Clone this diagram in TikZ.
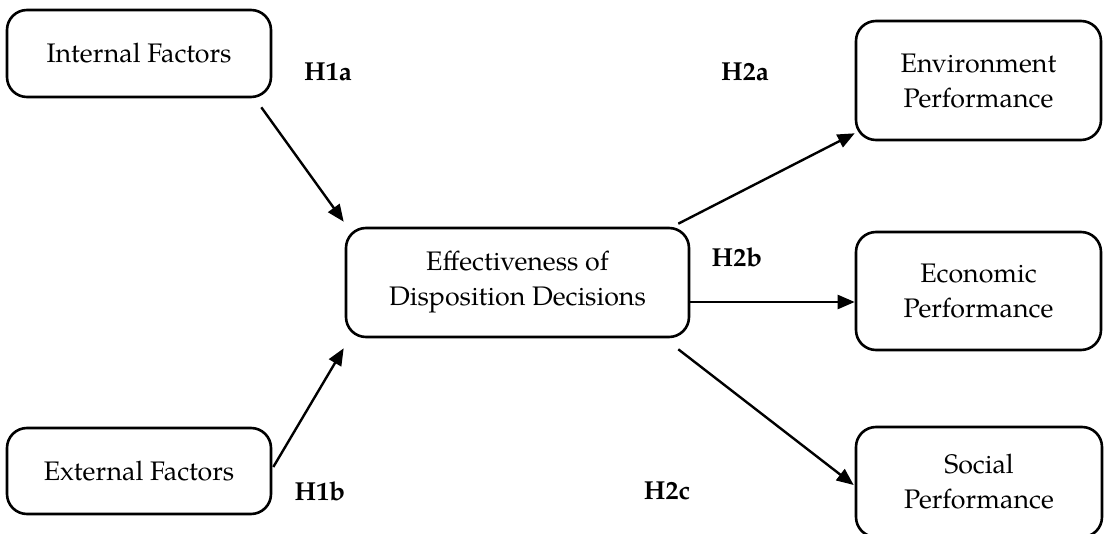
\documentclass[tikz,border=0pt]{standalone}
\usepackage{fontspec}
\setmainfont{texgyrepagella}[Extension=.otf, UprightFont=*-regular, BoldFont=*-bold, ItalicFont=*-italic, BoldItalicFont=*-bolditalic]
\usetikzlibrary{arrows.meta,calc}
\tikzset{
  box/.style={draw=black, line width=2.6pt, rounded corners=20pt, align=center, inner sep=0pt,
    font=\fontsize{26.8}{35}\selectfont},
  hlabel/.style={font=\fontsize{26}{30}\selectfont\bfseries, inner sep=0pt},
  conn/.style={line width=2.4pt, -{Triangle[length=17pt,width=14pt]}}
}
\begin{document}
\begin{tikzpicture}[x=1pt,y=-1pt]
\useasboundingbox[fill=white] (0,0) rectangle (1104,534);
% boxes
\node[box, minimum width=264pt, minimum height=87pt] (int) at (139,53.5) {Internal Factors};
\node[box, minimum width=264pt, minimum height=86pt] (ext) at (139,471) {External Factors};
\node[box, minimum width=343pt, minimum height=109pt] (ctr) at (517.5,282.5) {Effectiveness of\\Disposition Decisions};
\node[box, minimum width=245pt, minimum height=119pt] (env) at (978.5,80.5) {Environment\\Performance};
\node[box, minimum width=245pt, minimum height=118pt] (eco) at (978.5,291) {Economic\\Performance};
\node[box, minimum width=246pt, minimum height=110pt] (soc) at (979,482) {Social\\Performance};
% labels
\node[hlabel] (h1a) at (328,72) {H1a};
\node[hlabel] (h1b) at (320,491) {H1b};
\node[hlabel] (h2a) at (745,72) {H2a};
\node[hlabel] (h2b) at (737,257) {H2b};
\node[hlabel] (h2c) at (667,491) {H2c};
% connectors
\draw[conn] ($(int.south east)+(-11,9)$) -- ($(ctr.north west)+(-1,-5)$);
\draw[conn] ($(ext.east)+(1,-4)$) -- ($(ctr.south west)+(-1,10)$);
\draw[conn] ($(ctr.north east)+(-12,-3)$) -- ($(env.south west)+(0,-8)$);
\coordinate (e0) at ($(ctr.east)+(0,19.5)$);
\draw[conn] (e0) -- (e0 -| eco.west);
\draw[conn] ($(ctr.south east)+(-12,11)$) -- ($(soc.west)+(-1,3)$);
\end{tikzpicture}
\end{document}
